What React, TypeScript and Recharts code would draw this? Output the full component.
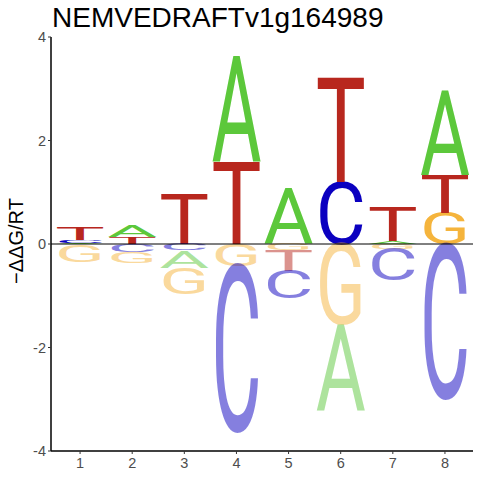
import React from 'react'
import { BarChart, Bar, XAxis, YAxis, ReferenceLine } from 'recharts'

const positions = ['1', '2', '3', '4', '5', '6', '7', '8']
const bases = ['A', 'C', 'G', 'T']
const valuesA = [0.02, 0.23, -0.34, 2.05, 1.06, -1.66, 0.05, 1.64]
const valuesC = [0.05, -0.16, -0.12, -3.19, -0.52, 1.2, -0.6, -2.97]
const valuesG = [-0.34, -0.21, -0.5, -0.42, -0.12, -1.55, -0.1, 0.6]
const valuesT = [0.26, 0.13, 0.97, 1.59, -0.41, 2.01, 0.66, 0.74]
const yTicks = [-4, -2, 0, 2, 4]

const baseValues: Record<string, number[]> = { A: valuesA, C: valuesC, G: valuesG, T: valuesT }
const baseColors: Record<string, string> = {
  A: '#5CC83B',
  C: '#0B00C0',
  G: '#F5B43C',
  T: '#B8271E',
}

const SLOTS = 4

// each position gets its own stacking order: smallest letter nearest the zero line
const rows = positions.map((pos, i) => {
  const entries = bases.map((b) => ({ b, v: baseValues[b][i] }))
  const up = entries.filter((e) => e.v > 0).sort((a, b) => a.v - b.v)
  const down = entries.filter((e) => e.v < 0).sort((a, b) => b.v - a.v)
  const row: Record<string, any> = { pos }
  for (let k = 0; k < SLOTS; k++) {
    row[`p${k}`] = up[k] ? up[k].v : 0
    row[`p${k}L`] = up[k] ? up[k].b : null
    row[`n${k}`] = down[k] ? down[k].v : 0
    row[`n${k}L`] = down[k] ? down[k].b : null
  }
  return row
})

const slots = [0, 1, 2, 3].flatMap((k) => [`p${k}`, `n${k}`])

const FONT = "'Liberation Sans', Arial, sans-serif"

const XTick = ({ x, y, payload }: any) => (
  <text x={x} y={y} dy={10.5} textAnchor="middle" fontFamily={FONT} fontSize={14.5} fill="#4D4D4D">
    {payload.value}
  </text>
)

const YTick = ({ x, y, payload }: any) => (
  <text x={x} y={y} dy={5.2} textAnchor="end" fontFamily={FONT} fontSize={14.5} fill="#4D4D4D">
    {payload.value}
  </text>
)

function renderLetter(slot: string) {
  return (props: any) => {
    const { x, y, width, height, payload } = props
    const v = payload[slot]
    const letter = payload[`${slot}L`]
    if (!v || !letter) return <g />
    const top = Math.min(y, y + height)
    const h = Math.abs(height)
    if (h < 0.2) return <g />
    const fs = 100
    const cap = 0.711 * fs
    return (
      <text
        x={0}
        y={0}
        fontFamily="Roboto, 'Liberation Sans', sans-serif"
        fontWeight={400}
        fontSize={fs}
        textLength={width}
        lengthAdjust="spacingAndGlyphs"
        fill={baseColors[letter]}
        fillOpacity={v < 0 ? 0.5 : 1}
        transform={`translate(${x},${top + h}) scale(1,${h / cap})`}
      >
        {letter}
      </text>
    )
  }
}

export default function App() {
  return (
    <div style={{ position: 'relative', width: 480, height: 480, background: '#fff' }}>
      <style>{'body{margin:0}'}</style>
      <BarChart
        width={480}
        height={480}
        data={rows}
        stackOffset="sign"
        barSize={50}
        margin={{ top: 37, right: 7, bottom: 0, left: 0 }}
      >
        <XAxis
          dataKey="pos"
          height={29}
          padding={{ left: 3, right: 2 }}
          tickSize={3}
          tickMargin={3.5}
          stroke="#000"
          strokeWidth={1.5}
          tick={<XTick />}
          tickLine={{ stroke: '#333', strokeWidth: 1 }}
        />
        <YAxis
          width={51}
          domain={[-4, 4]}
          ticks={yTicks}
          type="number"
          allowDataOverflow
          tickSize={3}
          tickMargin={2}
          stroke="#000"
          strokeWidth={1.5}
          tick={<YTick />}
          tickLine={{ stroke: '#333', strokeWidth: 1 }}
        />
        {slots.map((s) => (
          <Bar key={s} dataKey={s} stackId="logo" isAnimationActive={false} shape={renderLetter(s)} />
        ))}
        <ReferenceLine y={0} stroke="#000" strokeWidth={1} />
      </BarChart>
      <svg
        width={480}
        height={480}
        style={{ position: 'absolute', left: 0, top: 0, pointerEvents: 'none' }}
      >
        <text x={52} y={27.3} fontFamily={FONT} fontSize={28} fill="#000">
          NEMVEDRAFTv1g164989
        </text>
        <text
          x={0}
          y={0}
          transform="translate(23,241) rotate(-90)"
          textAnchor="middle"
          fontFamily={FONT}
          fontSize={20}
          fill="#000"
        >
          −ΔΔG/RT
        </text>
      </svg>
    </div>
  )
}
